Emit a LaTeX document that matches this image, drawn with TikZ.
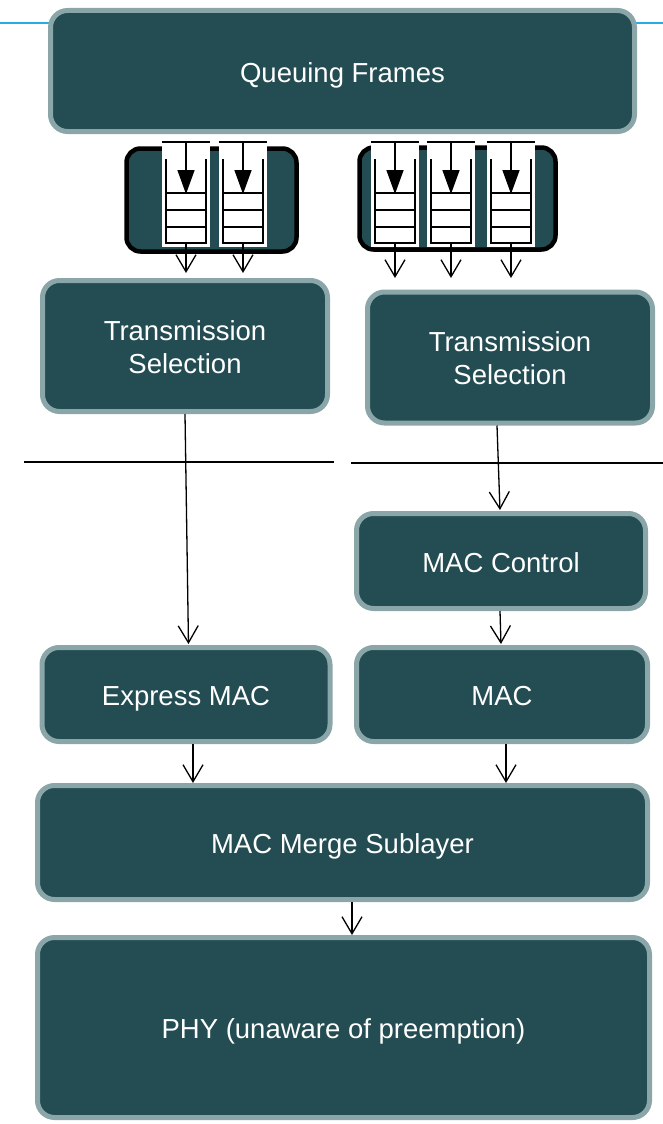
\documentclass[tikz,border=0pt]{standalone}
\usepackage{fontspec}
\setmainfont{Liberation Sans}
\usetikzlibrary{arrows.meta,calc}
\definecolor{boxfill}{RGB}{35,77,82}
\definecolor{boxedge}{RGB}{138,166,168}
\definecolor{topline}{RGB}{41,171,226}
\tikzset{
  layer/.style={draw=boxedge, fill=boxfill, line width=5pt, rounded corners=17pt,
    text=white, align=center, font=\fontsize{27.5}{33}\selectfont, inner sep=0pt,
    text height=22pt, text depth=0pt},
  twoline/.style={text height=54pt},
  holder/.style={draw=black, fill=boxfill, line width=4.5pt, rounded corners=14pt, inner sep=0pt},
  colbox/.style={fill=white, inner sep=0pt, minimum width=48pt, minimum height=107pt},
  qline/.style={line width=1.5pt},
  conn/.style={line width=1.3pt, -{Straight Barb[length=17pt,width=20pt,line width=1.3pt]}},
  qarrow/.style={line width=1.5pt, -{Triangle[length=24pt,width=17pt]}},
}
\newcommand{\qcol}[2]{%
  \node[colbox] (#1) at ({#2+24},193.5) {};
  \draw[qline] (#2,142) -- ({#2+48},142);
  \draw[qline] ({#2+4},159) -- ({#2+4},243) -- ({#2+44},243) -- ({#2+44},159);
  \foreach \yy in {193,210,227} {\draw[qline] ({#2+4},\yy) -- ({#2+44},\yy);}
  \draw[qarrow] ({#2+24},142) -- ({#2+24},194);
}
\begin{document}
\begin{tikzpicture}[x=1pt,y=-1pt]
\useasboundingbox (0,0) rectangle (663,1124);
% top cyan line
\draw[topline, line width=2.5pt] (0,23) -- (663,23);
% boxes
\node[layer, minimum width=584pt, minimum height=121pt] (qf) at (342.5,71) {Queuing Frames};
\node[layer, twoline, minimum width=285pt, minimum height=131pt] (tsl) at (185,346) {Transmission\\Selection};
\node[layer, twoline, minimum width=285pt, minimum height=131pt] (tsr) at (510,357.5) {Transmission\\Selection};
\node[layer, minimum width=289pt, minimum height=95pt] (macc) at (501,561) {MAC Control};
\node[layer, minimum width=288pt, minimum height=94pt] (emac) at (186,694.5) {Express MAC};
\node[layer, minimum width=291pt, minimum height=94pt] (mac) at (502,694.5) {MAC};
\node[layer, minimum width=610pt, minimum height=114pt] (merge) at (342.5,842.5) {MAC Merge Sublayer};
\node[layer, minimum width=612pt, minimum height=180pt] (phy) at (343.5,1027.5) {PHY (unaware of preemption)};
% queue holders
\node[holder, minimum width=170pt, minimum height=103pt] (hl) at (211.5,200) {};
\node[holder, minimum width=196pt, minimum height=102pt] (hr) at (457.5,198.5) {};
% queue columns
\qcol{ql1}{162}
\qcol{ql2}{219}
\qcol{qr1}{371}
\qcol{qr2}{427}
\qcol{qr3}{487}
% queue outputs
\foreach \q in {ql1,ql2} {\draw[conn] (\q.south |- 0,243) -- (\q.south |- 0,273);}
\foreach \q in {qr1,qr2,qr3} {\draw[conn] (\q.south |- 0,243) -- (\q.south |- 0,278);}
% layer lines
\draw[line width=2.5pt] (24,462) -- (334,462);
\draw[line width=2pt] (351,463) -- (663,463);
% connectors
\draw[conn, shorten >=1pt] (tsl.south) -- ([xshift=2.5pt]emac.north);
\draw[conn, shorten >=1pt] ([xshift=-13pt]tsr.south) -- ([xshift=-1pt]macc.north);
\draw[conn, shorten >=1pt] ([xshift=-1pt]macc.south) -- ([xshift=-1pt]mac.north);
\draw[conn] ([xshift=7pt]emac.south) -- ([xshift=7pt]emac.south |- merge.north);
\draw[conn] ([xshift=4pt]mac.south) -- ([xshift=4pt]mac.south |- merge.north);
\draw[conn] ([xshift=9.5pt]merge.south) -- ([xshift=9.5pt]merge.south |- phy.north);
\end{tikzpicture}
\end{document}
